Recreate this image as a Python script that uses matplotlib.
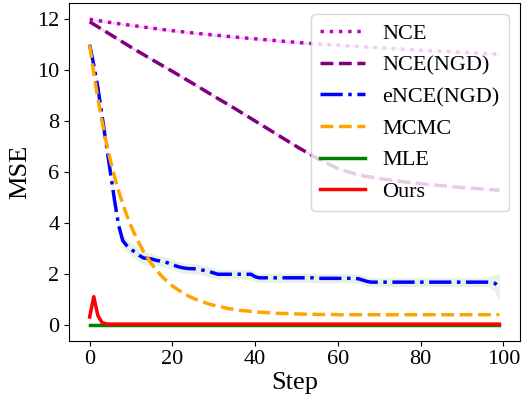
import numpy as np
import matplotlib
matplotlib.use("Agg")
import matplotlib.pyplot as plt

plt.rcParams['font.family'] = ['Liberation Serif', 'DejaVu Serif']

# values
curve_steps = [0, 5, 10, 15, 20, 25, 30, 35, 40, 45, 50, 55, 60, 65, 70, 75, 80, 85, 90, 95, 99]
nce = [12.0, 11.87, 11.76, 11.65, 11.55, 11.46, 11.38, 11.30, 11.23, 11.16, 11.09,
       11.03, 10.98, 10.93, 10.88, 10.83, 10.78, 10.74, 10.70, 10.66, 10.63]
nce_ngd = [11.9, 11.4, 10.9, 10.42, 9.95, 9.47, 8.98, 8.5, 8.0, 7.5, 7.0,
           6.53, 6.13, 5.88, 5.74, 5.63, 5.54, 5.46, 5.39, 5.33, 5.28]

steps = np.arange(100)
ence_ngd = ([11.0, 10.2, 9.3, 8.2, 7.1, 6.0, 4.9, 3.9, 3.3, 3.1,
             2.95, 2.85, 2.72, 2.62, 2.6, 2.58, 2.53, 2.5, 2.47, 2.42,
             2.35, 2.3, 2.25, 2.22, 2.2, 2.2, 2.18, 2.15, 2.12, 2.08, 2.03]
            + [1.98] * 9 + [1.88] + [1.84] * 14 + [1.82] * 10
            + [1.8, 1.75, 1.7] + [1.67] * 29 + [1.66, 1.62, 1.47])
ence_std = ([0.12] * 8 + [0.25] * 8 + [0.2] * 16 + [0.18] * 65 + [0.25, 0.35, 0.55])

mcmc = ([10.98, 9.87, 8.87, 7.98, 7.17, 6.46, 5.82, 5.25, 4.74, 4.28,
         3.87, 3.51, 3.18, 2.88, 2.62, 2.38, 2.17, 1.98, 1.81, 1.66,
         1.52, 1.41, 1.30, 1.21, 1.11, 1.04, 0.97, 0.91, 0.86, 0.80,
         0.76, 0.72, 0.69, 0.65, 0.62, 0.60, 0.57, 0.55, 0.54, 0.52,
         0.51, 0.49, 0.48, 0.47, 0.46, 0.45, 0.44, 0.44, 0.43, 0.43, 0.42,
         0.42, 0.41, 0.41, 0.41, 0.40, 0.40, 0.40, 0.40, 0.40, 0.39]
        + [0.39] * 39)
mle = [0.0] * 100
ours = [0.3, 1.1, 0.35, 0.08, 0.03] + [0.02] * 95

fig = plt.figure(figsize=(5.24, 3.98), dpi=100)
ax = fig.add_axes([0.132, 0.144, 0.860, 0.848])

lw = 2.5
ax.fill_between(curve_steps, np.array(nce) - 0.05, np.array(nce) + 0.05, color='m', alpha=0.15, lw=0)
ax.plot(curve_steps, nce, ':', color='m', lw=lw, label='NCE')
ax.fill_between(curve_steps, np.array(nce_ngd) - 0.05, np.array(nce_ngd) + 0.05, color='purple', alpha=0.15, lw=0)
ax.plot(curve_steps, nce_ngd, '--', color='purple', lw=lw, label='NCE(NGD)')
ax.fill_between(steps, np.array(ence_ngd) - np.array(ence_std), np.array(ence_ngd) + np.array(ence_std),
                color='green', alpha=0.1, lw=0)
ax.plot(steps, ence_ngd, '-.', color='blue', lw=lw, label='eNCE(NGD)')
ax.plot(steps, mcmc, '--', color='orange', lw=lw, label='MCMC')
ax.plot(steps, mle, '-', color='green', lw=lw, label='MLE')
ax.fill_between(steps, np.array(ours) - 0.08, np.array(ours) + 0.08, color='red', alpha=0.15, lw=0)
ax.plot(steps, ours, '-', color='red', lw=lw, label='Ours')

ax.set_xlim(-4.95, 103.95)
ax.set_ylim(-0.63, 12.63)
ax.set_xticks([0, 20, 40, 60, 80, 100])
ax.set_yticks([0, 2, 4, 6, 8, 10, 12])
ax.tick_params(labelsize=16)
ax.set_xlabel('Step', fontsize=19, labelpad=2)
ax.set_ylabel('MSE', fontsize=19)
ax.legend(loc='upper right', fontsize=16)

fig.savefig('out.png', dpi=100)
